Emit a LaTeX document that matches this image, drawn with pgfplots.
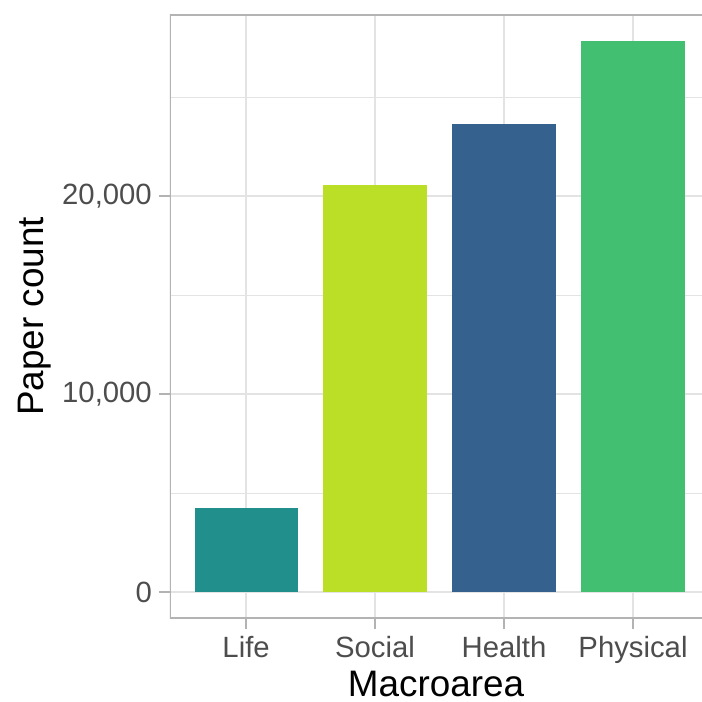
\documentclass[border=0pt]{standalone}
\usepackage{fontspec}
\setmainfont{Liberation Sans}
\usepackage{pgfplots}
\pgfplotsset{compat=1.18}

\definecolor{life}{HTML}{21908C}
\definecolor{social}{HTML}{BBDF27}
\definecolor{health}{HTML}{34618D}
\definecolor{physical}{HTML}{43BF71}
\definecolor{gridc}{HTML}{E3E3E3}
\definecolor{borderc}{HTML}{B3B3B3}
\definecolor{tickc}{HTML}{4D4D4D}

\begin{document}
\begin{tikzpicture}
\begin{axis}[
    name=ax,
    scale only axis,
    width=532bp, height=603bp,
    xmin=-0.59, xmax=3.535,
    ymin=-1313, ymax=29141,
    axis x line*=bottom, axis y line*=left,
    axis line style={draw=none, -},
    xtick={0,1,2,3},
    xticklabels={Life,Social,Health,Physical},
    ytick={0,10000,20000},
    minor ytick={5000,15000,25000},
    grid=both,
    major grid style={draw=gridc, line width=1.5bp},
    minor grid style={draw=gridc, line width=0.9bp},
    tick align=outside,
    major tick length=11bp, minor tick length=0pt,
    tick style={draw=borderc, line width=1.5bp},
    scaled y ticks=false,
    /pgf/number format/1000 sep={,},
    /pgf/number format/assume math mode=true,
    ticklabel style={font=\fontsize{29.4}{32}\selectfont, text=tickc},
    yticklabel style={anchor=east, inner sep=0pt, xshift=-7bp},
    xticklabel style={anchor=base, inner sep=0pt, yshift=-28bp},
    label style={font=\fontsize{37}{40}\selectfont},
    xlabel={Macroarea},
    ylabel={Paper count},
    xlabel style={at={(axis description cs:0.5,-0.131)}, anchor=base},
    ylabel style={at={(axis description cs:-0.2387,0.5)}, anchor=base},
]
\addplot[ybar, bar width=0.8, bar shift=0pt, fill=life, draw=none] coordinates {(0,4250)};
\addplot[ybar, bar width=0.8, bar shift=0pt, fill=social, draw=none] coordinates {(1,20560)};
\addplot[ybar, bar width=0.8, bar shift=0pt, fill=health, draw=none] coordinates {(2,23640)};
\addplot[ybar, bar width=0.8, bar shift=0pt, fill=physical, draw=none] coordinates {(3,27830)};
\draw[borderc, line width=1.8bp] (rel axis cs:1,1) -- (rel axis cs:0,1) -- (rel axis cs:0,0) -- (rel axis cs:1,0);
\end{axis}
\pgfresetboundingbox
\path ([shift={(-170bp,-84bp)}]ax.south west) rectangle ([shift={(0bp,15bp)}]ax.north east);
\end{tikzpicture}
\end{document}
